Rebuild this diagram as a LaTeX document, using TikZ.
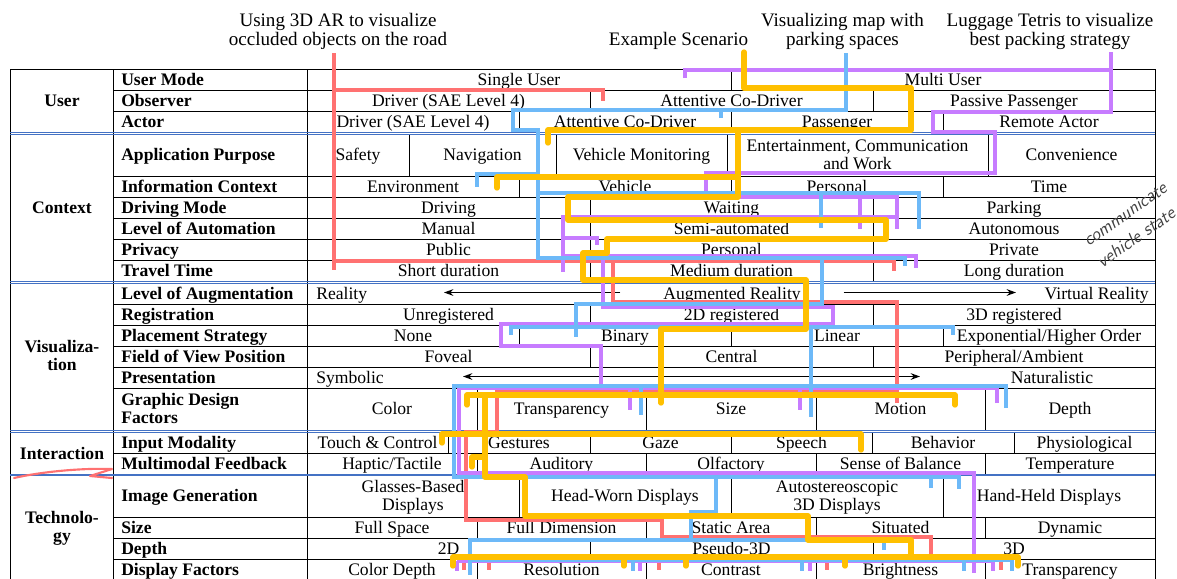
\documentclass[tikz,border=0pt]{standalone}
\usepackage{fontspec}
\setmainfont{Liberation Serif}
\usepackage{tikz}
\usetikzlibrary{arrows.meta}
\definecolor{redpath}{HTML}{FF7171}
\definecolor{bluepath}{HTML}{6DB9F8}
\definecolor{purplepath}{HTML}{C77CFF}
\definecolor{orangepath}{HTML}{FFC000}
\definecolor{seamblue}{HTML}{4472C4}
\newcommand{\tabfont}{\fontsize{13.2}{15}\selectfont}
\newcommand{\titlefont}{\fontsize{14.3}{14.6}\selectfont}
% two lines in a cell that is set as if it held one line
\newcommand{\twol}[3][c]{\raisebox{-6.3pt}[8.7pt][0pt]{\def\arraystretch{0.9}%
  \begin{tabular}[b]{@{}#1@{}}#2\\#3\end{tabular}}}
\newcommand{\dimrow}[4]{%
  \draw[gridline] (113,#2) -- (1155,#2);
  \node[dimlab] (dim-#1) at (121,{(#1+#2)/2}) {#3};
  \foreach \xa/\xb/\lab [count=\i] in {#4}{
    \draw[gridline] (\xb,#1) -- (\xb,#2);
    \node[optlab] (opt-#1-\i) at ({(\xa+\xb)/2},{(#1+#2)/2}) {\lab};}}
\newcommand{\ticks}[4]{\foreach \xt in {#4}{\draw[#1] (\xt,#2) -- (\xt,#3);}}
\tikzset{
  gridline/.style={black, line width=0.75pt},
  seam/.style={seamblue, line width=0.75pt},
  optlab/.style={inner sep=0pt, text height=8.7pt, text depth=0pt},
  dimlab/.style={optlab, anchor=west, font=\tabfont\bfseries},
  catlab/.style={optlab, font=\tabfont\bfseries},
  headline/.style={inner sep=0pt, align=center, font=\titlefont},
  hand/.style={inner sep=0pt, black!75, rotate=35,
    font=\fontsize{13.5}{19}\selectfont\sffamily\itshape},
  tipS/.tip={Stealth[length=7pt,width=5pt]},
  scalearrow/.style={line width=1.1pt},
  redp/.style={redpath, line width=2.6pt},
  bluep/.style={bluepath, line width=2.6pt},
  purp/.style={purplepath, line width=2.6pt},
  orp/.style={orangepath, line width=4pt, line cap=round, line join=round,
    preaction={draw=black!50, transform canvas={xshift=1.1pt, yshift=-1.1pt}}},
}
\begin{document}
\begin{tikzpicture}[x=0.75pt, y=-0.75pt, font=\tabfont]
  \clip (0,0) rectangle (1177,578);

  % scenario headings
  \node[headline] (t-red) at (338,31.3) {Using 3D AR to visualize\\occluded objects on the road};
  \node[headline] (t-orange) at (678.5,40.5) {Example Scenario};
  \node[headline] (t-blue) at (842.5,31.3) {Visualizing map with\\parking spaces};
  \node[headline] (t-purple) at (1050,31.3) {Luggage Tetris to visualize\\best packing strategy};

  % frame of the box
  \draw[gridline] (10,580) -- (10,69) -- (1155,69) -- (1155,580);
  \draw[gridline] (113,69) -- (113,580);
  \draw[gridline] (307,69) -- (307,580);

  \dimrow{69}{90}{User Mode}{307/731/Single User, 731/1155/Multi User}
  \dimrow{90}{111}{Observer}{307/590/Driver (SAE Level 4), 590/873/Attentive Co-Driver, 873/1155/Passive Passenger}
  \dimrow{111}{132}{Actor}{307/519/Driver (SAE Level 4), 519/731/Attentive Co-Driver, 731/943/Passenger, 943/1155/Remote Actor}
  \dimrow{134}{176}{Application Purpose}{307/409/Safety, 409/556/Navigation, 556/727/Vehicle Monitoring,
    727/988/{\twol{Entertainment, Communication}{and Work}}, 988/1155/Convenience}
  \dimrow{176}{197}{Information Context}{307/519/Environment, 519/731/Vehicle, 731/943/Personal, 943/1155/Time}
  \dimrow{197}{218}{Driving Mode}{307/590/Driving, 590/873/Waiting, 873/1155/Parking}
  \dimrow{218}{239}{Level of Automation}{307/590/Manual, 590/873/Semi-automated, 873/1155/Autonomous}
  \dimrow{239}{260}{Privacy}{307/590/Public, 590/873/Personal, 873/1155/Private}
  \dimrow{260}{281}{Travel Time}{307/590/Short duration, 590/873/Medium duration, 873/1155/Long duration}

  % the two scales have no cells
  \draw[gridline] (113,304) -- (1155,304);
  \node[dimlab] (dim-283) at (121,293.5) {Level of Augmentation};
  \node[optlab, anchor=west] (aug-real) at (316,293.5) {Reality};
  \node[optlab] (aug-ar) at (732,293.5) {Augmented Reality};
  \node[optlab, anchor=east] (aug-vr) at (1149,293.5) {Virtual Reality};
  \coordinate (aug-l) at (444,292.5);
  \coordinate (aug-r) at (1016,292.5);
  \coordinate (aug-ml) at ([xshift=-32pt]aug-ar.west |- aug-l);
  \coordinate (aug-mr) at ([xshift=32pt]aug-ar.east |- aug-r);
  \draw[scalearrow, -tipS] (aug-ml) -- (aug-l);
  \draw[scalearrow, -tipS] (aug-mr) -- (aug-r);
  \dimrow{304}{325}{Registration}{307/590/Unregistered, 590/873/2D registered, 873/1155/3D registered}
  \dimrow{325}{346}{Placement Strategy}{307/519/None, 519/731/Binary, 731/943/Linear, 943/1155/{Exponential/Higher Order}}
  \dimrow{346}{367}{Field of View Position}{307/590/Foveal, 590/873/Central, 873/1155/{Peripheral/Ambient}}
  \draw[gridline] (113,388) -- (1155,388);
  \node[dimlab] (dim-367) at (121,377.5) {Presentation};
  \node[optlab, anchor=west] (pres-sym) at (316,377.5) {Symbolic};
  \node[optlab] (pres-nat) at (1052,377.5) {Naturalistic};
  \coordinate (pres-l) at (463,376.5);
  \coordinate (pres-r) at (920,376.5);
  \draw[scalearrow, tipS-tipS] (pres-l) -- (pres-r);
  \dimrow{388}{430}{\twol[l]{Graphic Design}{Factors}}{307/477/Color, 477/646/Transparency, 646/816/Size, 816/985/Motion, 985/1155/Depth}
  \dimrow{432}{453}{Input Modality}{307/448/Touch \& Control, 448/590/Gestures, 590/731/Gaze, 731/872/Speech, 872/1014/Behavior, 1014/1155/Physiological}
  \dimrow{453}{474}{Multimodal Feedback}{307/477/{Haptic/Tactile}, 477/646/Auditory, 646/816/Olfactory, 816/985/Sense of Balance, 985/1155/Temperature}
  \dimrow{475}{517}{Image Generation}{307/519/{\twol{Glasses-Based}{Displays}}, 519/731/Head-Worn Displays,
    731/943/{\twol{Autostereoscopic}{3D Displays}}, 943/1155/Hand-Held Displays}
  \dimrow{517}{538}{Size}{307/477/Full Space, 477/646/Full Dimension, 646/816/Static Area, 816/985/Situated, 985/1155/Dynamic}
  \dimrow{538}{559}{Depth}{307/590/2D, 590/873/Pseudo-3D, 873/1155/3D}
  \dimrow{559}{580}{Display Factors}{307/477/Color Depth, 477/646/Resolution, 646/816/Contrast, 816/985/Brightness, 985/1155/Transparency}

  % categories and the blue seams between them
  \node[catlab] (cat-user) at (62,100.5) {User};
  \node[catlab] (cat-context) at (62,207.5) {Context};
  \node[catlab] (cat-vis) at (62,356.5) {\twol{Visualiza-}{tion}};
  \node[catlab] (cat-inter) at (62,453.5) {Interaction};
  \node[catlab] (cat-tech) at (62,527) {\twol{Technolo-}{gy}};
  \foreach \ys in {132,281,430}{
    \draw[seam] (10,\ys) -- (1155,\ys);
    \draw[seam] (10,{\ys+2.2}) -- (1155,{\ys+2.2});}
  \draw[seam, line width=1.4pt] (10,475) -- (1155,475);

  % red: 3D AR
  \draw[redp] (334,53) -- (334,270);
  \draw[redp] (334,90) -- (603,90) -- (603,101);
  \draw[redp] (334,261) -- (894,261) -- (894,271);
  \draw[redp] (613,261) -- (613,302) -- (897,302) -- (897,403);
  \draw[redp] (897,392) -- (497,392) -- (497,432) -- (466,432) -- (466,520) -- (662,520)
    -- (662,537) -- (931,537) -- (931,558);
  \draw[redp] (464,558) -- (1001,558);
  \ticks{redp}{558}{570}{464,489,659,827,1001}

  % purple: luggage
  \draw[purp] (685,78) -- (685,70) -- (1111,70);
  \draw[purp] (1111,52) -- (1111,112) -- (933,112) -- (933,132) -- (995,132) -- (995,173)
    -- (706,173) -- (706,197) -- (897,197) -- (897,229);
  \draw[purp] (860,197) -- (860,229);
  \draw[purp] (897,217) -- (563,217) -- (563,272);
  \draw[purp] (563,238) -- (597,238) -- (597,245);
  \draw[purp] (563,256) -- (916,256) -- (916,268);
  \draw[purp] (603,256) -- (603,307) -- (833,307) -- (833,324) -- (501,324) -- (501,346)
    -- (601,346) -- (601,388);
  \draw[purp] (997,403) -- (997,388) -- (459,388) -- (459,473) -- (974,473) -- (974,573);
  \ticks{purp}{388}{410}{630,800}
  \draw[purp] (457,561) -- (993,561);
  \ticks{purp}{561}{571}{457,640,810,993}

  % blue: parking map
  \draw[bluep] (846,53) -- (846,110) -- (513,110) -- (513,130) -- (538,130) -- (538,258)
    -- (905,258) -- (905,266);
  \draw[bluep] (721,110) -- (721,118);
  \draw[bluep] (538,174) -- (477,174) -- (477,187);
  \draw[bluep] (538,193) -- (919,193) -- (919,229);
  \draw[bluep] (821,193) -- (821,228);
  \draw[bluep] (822,258) -- (822,304) -- (576,304) -- (576,337);
  \draw[bluep] (511,335) -- (511,327) -- (953,327) -- (953,335);
  \draw[bluep] (811,327) -- (811,417);
  \draw[bluep] (1006,408) -- (1006,386) -- (454,386) -- (454,477) -- (959,477) -- (959,489);
  \draw[bluep] (641,386) -- (641,415);
  \draw[bluep] (931,477) -- (931,488);
  \draw[bluep] (716,477) -- (716,512) -- (691,512) -- (691,540) -- (470,540) -- (470,575);
  \draw[bluep] (691,540) -- (884,540) -- (884,550);
  \draw[bluep] (470,560) -- (1012,560);
  \ticks{bluep}{560}{571}{633,802,964,1012}

  % orange: example scenario
  \draw[orp] (744,52) -- (744,88) -- (911,88) -- (911,130) -- (548,130) -- (548,143);
  \draw[orp] (738,130) -- (738,197) -- (568,197) -- (568,220) -- (886,220) -- (886,239)
    -- (607,239) -- (607,253) -- (583,253) -- (583,280) -- (806,280) -- (806,329)
    -- (661,329) -- (661,403);
  \draw[orp] (738,177) -- (497,177) -- (497,188);
  \draw[orp] (467,405) -- (467,395) -- (955,395) -- (955,405);
  \draw[orp] (442,443) -- (442,434) -- (861,434) -- (861,450);
  \draw[orp] (472,467) -- (472,457) -- (485,457);
  \draw[orp] (485,395) -- (485,477) -- (525,477) -- (525,516) -- (808,516) -- (808,540)
    -- (911,540) -- (911,557);
  \draw[orp] (453,566) -- (453,557) -- (1018,557) -- (1018,566);
  \ticks{orp}{557}{566}{624,686,845}

  % pen marks
  \node[hand] (note-1) at (1125,214) {communicate};
  \node[hand] (note-2) at (1136,237) {vehicle state};
  \draw[redpath, line width=1.6pt, line cap=round, line join=round]
    (14,478) .. controls (45,471) and (85,468) .. (112,469) -- (90,476) -- (112,478);
\end{tikzpicture}
\end{document}
